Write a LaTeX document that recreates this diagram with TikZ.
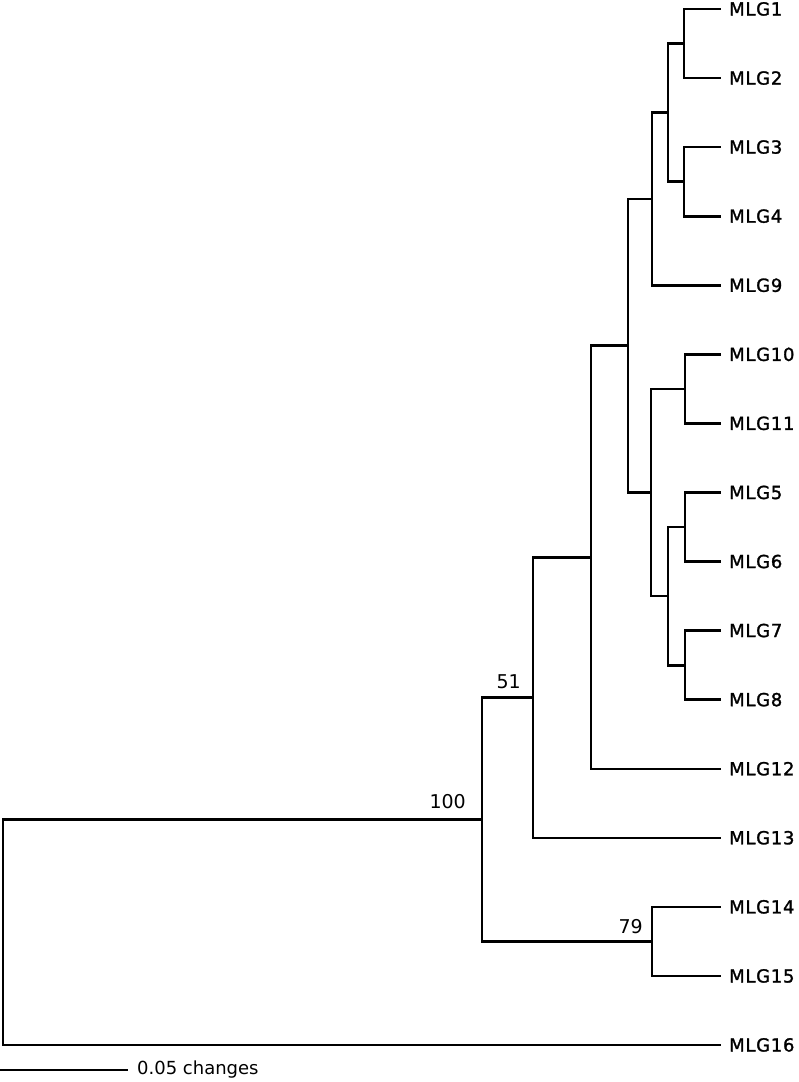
\documentclass[tikz,border=0pt]{standalone}
\usepackage{fontspec}
\setmainfont{DejaVu Sans}
\newfontfamily\tipfont[LetterSpace=4, FakeBold=1.5]{DejaVu Sans}
\usetikzlibrary{positioning}

\tikzset{
  branch/.style={line width=2.6pt, line cap=rect, line join=miter},
  tip/.style={anchor=west, inner xsep=9pt, inner ysep=0pt,
    text height=13pt, text depth=0pt, font=\tipfont\fontsize{18}{20}\selectfont},
  support/.style={anchor=south east, inner sep=0pt, font=\fontsize{19}{21}\selectfont}
}

\begin{document}
\begin{tikzpicture}[x=1pt, y=-1pt]
\useasboundingbox (0,0) rectangle (799,1082);

% tips, top to bottom
\foreach \n/\y in {1/9, 2/78.1, 3/147.1, 4/216.2, 9/285.3, 10/354.4, 11/423.4, 5/492.5,
                   6/561.6, 7/630.6, 8/699.7, 12/768.8, 13/837.8, 14/906.9, 15/976, 16/1045}
  \node[tip] (mlg\n) at (720,\y) {MLG\n};

% internal nodes
\coordinate (n12) at (684,43.5);
\coordinate (n34) at (684,181.7);
\coordinate (n1234) at (668,112.6);
\coordinate (nA) at (652,199);
\coordinate (n1011) at (685,388.9);
\coordinate (n56) at (685,527);
\coordinate (n78) at (685,665.2);
\coordinate (n5678) at (668,596.1);
\coordinate (nB) at (651,492.5);
\coordinate (nAB) at (628,345.7);
\coordinate (nC) at (591,557.3);
\coordinate (nD) at (533,697.5);
\coordinate (n1415) at (652,941.5);
\coordinate (nE) at (482,819.5);
\coordinate (root) at (3,932.2);

\draw[branch] (mlg1.west) -| (n12) |- (mlg2.west);
\draw[branch] (mlg3.west) -| (n34) |- (mlg4.west);
\draw[branch] (n12) -| (n1234) |- (n34);
\draw[branch] (n1234) -| (nA) |- (mlg9.west);
\draw[branch] (mlg10.west) -| (n1011) |- (mlg11.west);
\draw[branch] (mlg5.west) -| (n56) |- (mlg6.west);
\draw[branch] (mlg7.west) -| (n78) |- (mlg8.west);
\draw[branch] (n56) -| (n5678) |- (n78);
\draw[branch] (n1011) -| (nB) |- (n5678);
\draw[branch] (nA) -| (nAB) |- (nB);
\draw[branch] (nAB) -| (nC) |- (mlg12.west);
\draw[branch] (nC) -| (nD) |- (mlg13.west);
\draw[branch] (mlg14.west) -| (n1415) |- (mlg15.west);
\draw[branch] (nD) -| (nE) |- (n1415);
\draw[branch] (nE) -| (root) |- (mlg16.west);

% bootstrap values
\node[support] (b100) at ([xshift=-16pt,yshift=11pt]nE) {100};
\node[support] (b51) at ([xshift=-12pt,yshift=9pt]nD) {51};
\node[support] (b79) at ([xshift=-9pt,yshift=8pt]n1415) {79};

% scale bar
\coordinate (sb1) at (0,1070);
\coordinate (sb2) at (128,1070);
\draw[branch, line cap=butt] (sb1) -- (sb2);
\node[anchor=west, inner sep=0pt, xshift=9pt, font=\fontsize{18}{20}\selectfont] (sblabel) at (sb2) {0.05 changes};
\end{tikzpicture}
\end{document}
